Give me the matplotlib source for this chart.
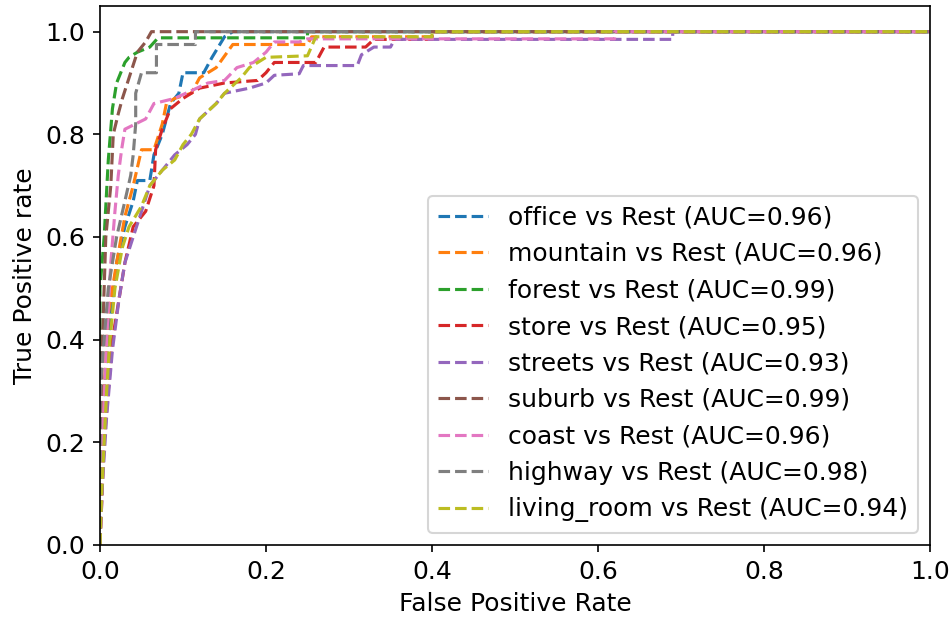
import matplotlib
matplotlib.use("Agg")
import matplotlib.pyplot as plt

# ROC curves (fpr, tpr step points)
class_names = ["office", "mountain", "forest", "store", "streets",
               "suburb", "coast", "highway", "living_room"]
auc_values = [0.96, 0.96, 0.99, 0.95, 0.93, 0.99, 0.96, 0.98, 0.94]

office_fpr = [0, 0.0, 0.01, 0.02, 0.03, 0.04, 0.045, 0.06, 0.065, 0.075, 0.085, 0.095, 0.1, 0.125, 0.135, 0.15, 0.16, 1]
office_tpr = [0, 0.2, 0.4, 0.55, 0.62, 0.67, 0.71, 0.71, 0.76, 0.8, 0.86, 0.88, 0.92, 0.92, 0.95, 0.99, 1.0, 1]

mountain_fpr = [0, 0.005, 0.01, 0.02, 0.03, 0.04, 0.05, 0.065, 0.075, 0.08, 0.09, 0.11, 0.12, 0.14, 0.16, 0.19, 0.25, 0.255, 0.4, 0.4, 1]
mountain_tpr = [0, 0.3, 0.45, 0.55, 0.64, 0.7, 0.77, 0.77, 0.82, 0.86, 0.87, 0.88, 0.91, 0.93, 0.975, 0.975, 0.975, 0.99, 0.99, 1.0, 1]

forest_fpr = [0, 0.0, 0.005, 0.01, 0.015, 0.02, 0.03, 0.035, 0.045, 0.06, 0.07, 0.25, 0.25, 1]
forest_tpr = [0, 0.5, 0.6, 0.75, 0.85, 0.9, 0.94, 0.95, 0.96, 0.97, 0.988, 0.988, 1.0, 1]

store_fpr = [0, 0.005, 0.01, 0.015, 0.02, 0.03, 0.04, 0.055, 0.065, 0.067, 0.075, 0.085, 0.1, 0.12, 0.15, 0.19, 0.2, 0.21, 0.26, 0.27, 0.32, 0.33, 0.4, 0.4, 1]
store_tpr = [0, 0.2, 0.3, 0.4, 0.45, 0.55, 0.62, 0.65, 0.7, 0.77, 0.81, 0.85, 0.87, 0.89, 0.9, 0.905, 0.92, 0.94, 0.94, 0.97, 0.97, 0.985, 0.985, 1.0, 1]

streets_fpr = [0, 0.003, 0.008, 0.015, 0.023, 0.03, 0.04, 0.05, 0.06, 0.075, 0.09, 0.105, 0.115, 0.12, 0.14, 0.15, 0.18, 0.2, 0.21, 0.24, 0.245, 0.31, 0.315, 0.33, 0.35, 0.355, 0.69, 0.69, 1]
streets_tpr = [0, 0.12, 0.25, 0.38, 0.48, 0.55, 0.6, 0.65, 0.7, 0.73, 0.76, 0.78, 0.8, 0.83, 0.86, 0.88, 0.89, 0.9, 0.915, 0.918, 0.934, 0.934, 0.955, 0.97, 0.97, 0.985, 0.985, 1.0, 1]

suburb_fpr = [0, 0.0, 0.003, 0.007, 0.013, 0.016, 0.022, 0.027, 0.035, 0.045, 0.055, 0.062, 1]
suburb_tpr = [0, 0.2, 0.4, 0.6, 0.7, 0.8, 0.84, 0.87, 0.91, 0.96, 0.98, 1.0, 1]

coast_fpr = [0, 0.003, 0.008, 0.013, 0.018, 0.022, 0.026, 0.03, 0.055, 0.065, 0.09, 0.13, 0.15, 0.165, 0.185, 0.2, 0.21, 0.24, 0.25, 0.62, 0.62, 1]
coast_tpr = [0, 0.2, 0.4, 0.55, 0.65, 0.72, 0.77, 0.81, 0.83, 0.86, 0.87, 0.9, 0.905, 0.93, 0.94, 0.96, 0.98, 0.98, 0.986, 0.986, 1.0, 1]

highway_fpr = [0, 0.0, 0.01, 0.02, 0.03, 0.037, 0.04, 0.043, 0.043, 0.05, 0.068, 0.068, 0.115, 0.115, 1]
highway_tpr = [0, 0.3, 0.5, 0.6, 0.67, 0.72, 0.76, 0.82, 0.88, 0.92, 0.92, 0.975, 0.975, 1.0, 1]

living_room_fpr = [0, 0.002, 0.005, 0.008, 0.012, 0.018, 0.027, 0.035, 0.05, 0.06, 0.075, 0.09, 0.1, 0.11, 0.12, 0.14, 0.15, 0.17, 0.18, 0.2, 0.25, 0.26, 0.4, 0.4, 1]
living_room_tpr = [0, 0.1, 0.2, 0.3, 0.4, 0.5, 0.58, 0.62, 0.66, 0.7, 0.73, 0.75, 0.78, 0.8, 0.83, 0.86, 0.88, 0.91, 0.93, 0.95, 0.953, 0.99, 0.99, 1.0, 1]

fpr_list = [office_fpr, mountain_fpr, forest_fpr, store_fpr, streets_fpr,
            suburb_fpr, coast_fpr, highway_fpr, living_room_fpr]
tpr_list = [office_tpr, mountain_tpr, forest_tpr, store_tpr, streets_tpr,
            suburb_tpr, coast_tpr, highway_tpr, living_room_tpr]

plt.rcParams["font.size"] = 12

fig = plt.figure(figsize=(952 / 150, 623 / 150), dpi=150)
ax = fig.add_axes([100 / 952, 1 - 545 / 623, 830 / 952, 539 / 623])

for name, auc, fpr, tpr in zip(class_names, auc_values, fpr_list, tpr_list):
    ax.plot(fpr, tpr, linestyle="--", label=f"{name} vs Rest (AUC={auc:.2f})")

ax.set_xlim([0.0, 1.0])
ax.set_ylim([0.0, 1.05])
ax.set_xlabel("False Positive Rate")
ax.set_ylabel("True Positive rate")
ax.legend(loc="lower right")

fig.savefig("out.png", dpi=150)
